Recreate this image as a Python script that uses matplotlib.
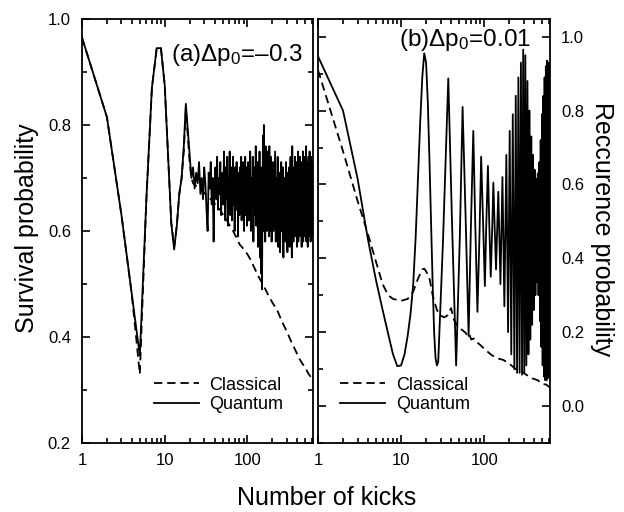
import numpy as np
import matplotlib
matplotlib.use('Agg')
import matplotlib.pyplot as plt
from matplotlib.ticker import FixedLocator, MultipleLocator, FixedFormatter, NullFormatter

plt.rcParams['font.family'] = ['Liberation Sans', 'DejaVu Sans']
plt.rcParams['mathtext.fontset'] = 'custom'
plt.rcParams['mathtext.rm'] = 'Liberation Sans'
plt.rcParams['mathtext.it'] = 'Liberation Sans:italic'
plt.rcParams['lines.scale_dashes'] = False

# ---------------- Panel (a): survival probability ----------------
a_early_n = list(range(1, 21))
a_early_q = [0.965, 0.815, 0.63, 0.48, 0.365, 0.66, 0.87, 0.945, 0.945, 0.875,
             0.74, 0.615, 0.565, 0.61, 0.67, 0.70, 0.76, 0.84, 0.79, 0.74]
a_early_c = [0.965, 0.815, 0.63, 0.48, 0.33, 0.66, 0.87, 0.945, 0.945, 0.875,
             0.74, 0.615, 0.57, 0.61, 0.67, 0.70, 0.75, 0.83, 0.78, 0.73]

a_q_n1 = list(range(21, 101))
a_q_v1 = [0.70, 0.72, 0.68, 0.71, 0.69, 0.73, 0.67, 0.70, 0.66, 0.72,
          0.69, 0.64, 0.60, 0.71, 0.68, 0.73, 0.65, 0.70, 0.58, 0.69,
          0.72, 0.66, 0.74, 0.64, 0.70, 0.67, 0.73, 0.63, 0.69, 0.71,
          0.65, 0.75, 0.68, 0.62, 0.72, 0.66, 0.74, 0.61, 0.70, 0.67,
          0.75, 0.63, 0.69, 0.72, 0.62, 0.68, 0.74, 0.65, 0.70, 0.60,
          0.72, 0.67, 0.64, 0.73, 0.66, 0.70, 0.59, 0.71, 0.68, 0.63,
          0.72, 0.65, 0.69, 0.74, 0.62, 0.67, 0.71, 0.64, 0.73, 0.66,
          0.60, 0.70, 0.68, 0.74, 0.63, 0.69, 0.65, 0.72, 0.61, 0.70]
a_q_n2 = list(range(102, 201, 2))
a_q_v2 = [0.73, 0.62, 0.68, 0.75, 0.60, 0.70, 0.65, 0.74, 0.58, 0.69,
          0.72, 0.63, 0.76, 0.61, 0.67, 0.73, 0.57, 0.70, 0.64, 0.75,
          0.55, 0.69, 0.52, 0.72, 0.49, 0.66, 0.78, 0.60, 0.80, 0.63,
          0.71, 0.58, 0.76, 0.64, 0.69, 0.60, 0.75, 0.62, 0.73, 0.66,
          0.59, 0.76, 0.63, 0.70, 0.60, 0.74, 0.65, 0.58, 0.72, 0.67]
a_q_n3 = list(range(204, 621, 4))
a_q_v3 = [0.73, 0.60, 0.68, 0.75, 0.58, 0.70, 0.63, 0.74, 0.57, 0.69,
          0.71, 0.56, 0.67, 0.73, 0.60, 0.66, 0.72, 0.55, 0.70, 0.64,
          0.70, 0.58, 0.73, 0.62, 0.68, 0.56, 0.71, 0.65, 0.60, 0.72,
          0.57, 0.69, 0.74, 0.61, 0.66, 0.55, 0.76, 0.63, 0.70, 0.58,
          0.72, 0.60, 0.67, 0.74, 0.59, 0.69, 0.62, 0.73, 0.57, 0.70,
          0.64, 0.75, 0.58, 0.68, 0.72, 0.60, 0.66, 0.74, 0.59, 0.71,
          0.62, 0.69, 0.57, 0.73, 0.65, 0.61, 0.75, 0.58, 0.70, 0.64,
          0.72, 0.59, 0.67, 0.74, 0.60, 0.69, 0.63, 0.76, 0.58, 0.71,
          0.65, 0.61, 0.73, 0.57, 0.70, 0.66, 0.74, 0.59, 0.68, 0.62,
          0.75, 0.60, 0.69, 0.72, 0.58, 0.67, 0.74, 0.61, 0.70, 0.63,
          0.73, 0.59, 0.68, 0.71, 0.62]

a_c_n = [21, 22, 24, 26, 28, 30, 33, 36, 40, 43, 47, 50, 55, 60, 65, 70, 75, 80,
         90, 100, 110, 120, 135, 150, 165, 180, 200, 230, 260, 300, 330, 380,
         420, 460, 500, 550, 600, 620]
a_c_v = [0.70, 0.69, 0.685, 0.68, 0.678, 0.672, 0.665, 0.66, 0.652, 0.645,
         0.64, 0.632, 0.624, 0.612, 0.605, 0.594, 0.586, 0.575, 0.566, 0.556,
         0.545, 0.532, 0.515, 0.502, 0.49, 0.478, 0.465, 0.45, 0.43, 0.41,
         0.395, 0.375, 0.36, 0.35, 0.342, 0.33, 0.322, 0.315]

# ---------------- Panel (b): recurrence probability ----------------
b_q_n = list(range(1, 29)) + [
    32, 37, 41, 46, 51, 55, 60, 65, 69, 74, 78, 83, 88, 92, 97, 102, 106, 111,
    115, 120, 125, 129, 134, 139, 143, 148,
    157, 166, 175, 185, 194, 203, 212, 221, 231, 240, 249, 258, 267, 277, 286,
    295, 304, 313, 322, 332, 341, 350, 359, 369, 378, 387, 396, 405, 414, 424,
    433, 442, 451, 461, 470, 479, 488, 497, 506, 516, 525, 534, 543, 553, 562,
    571, 580, 589, 598, 608, 617, 620]
b_q_v = [0.947, 0.80, 0.615, 0.45, 0.34, 0.26, 0.195, 0.14, 0.108, 0.11,
         0.14, 0.19, 0.25, 0.33, 0.46, 0.62, 0.77, 0.89, 0.955, 0.93,
         0.82, 0.66, 0.49, 0.33, 0.20, 0.13, 0.11, 0.12,
         0.45, 0.887, 0.50, 0.11, 0.46, 0.81, 0.50, 0.19, 0.47, 0.745, 0.50,
         0.255, 0.47, 0.675, 0.50, 0.325, 0.49, 0.65, 0.50, 0.35, 0.48, 0.605,
         0.48, 0.37, 0.47, 0.58,
         0.33, 0.62, 0.27, 0.68, 0.20, 0.745, 0.14, 0.79, 0.10, 0.84, 0.09,
         0.89, 0.09, 0.93, 0.085, 0.965, 0.09, 0.95, 0.11, 0.88, 0.14, 0.80,
         0.18, 0.73, 0.22, 0.68, 0.26, 0.64, 0.30, 0.615, 0.335, 0.63, 0.30,
         0.66, 0.23, 0.72, 0.16, 0.79, 0.11, 0.84, 0.08, 0.89, 0.07, 0.92,
         0.07, 0.935, 0.075, 0.93, 0.08, 0.93, 0.08, 0.25]

b_c_n = [1, 2, 3, 4, 5, 6, 7, 8, 10, 12, 14, 16, 18, 19, 20, 22, 24, 27, 30,
         33, 36, 40, 43, 48, 55, 60, 63, 66, 70, 75, 80, 90, 100, 120, 140,
         170, 200, 240, 280, 320, 380, 440, 500, 560, 620]
b_c_v = [0.91, 0.69, 0.555, 0.465, 0.39, 0.33, 0.30, 0.29, 0.285, 0.29,
         0.31, 0.345, 0.37, 0.372, 0.365, 0.345, 0.30, 0.26, 0.245, 0.24,
         0.245, 0.265, 0.235, 0.215, 0.205, 0.198, 0.19, 0.195, 0.18, 0.183,
         0.175, 0.165, 0.155, 0.14, 0.13, 0.125, 0.115, 0.10, 0.095, 0.085,
         0.075, 0.07, 0.06, 0.058, 0.05]

x_ticklabels = ['1', '10', '100', '1000']

# ---------------- drawing ----------------
fig = plt.figure(figsize=(6.24, 5.12), dpi=100)
axL = fig.add_axes([0.1314, 0.1348, 0.3702, 0.8281])
axR = fig.add_axes([0.5096, 0.1348, 0.3718, 0.8281])

LW = 1.3
DASH = (6, 3.5)

qa_n = a_early_n + a_q_n1 + a_q_n2 + a_q_n3
qa_v = a_early_q + a_q_v1 + a_q_v2 + a_q_v3
ca_n = a_early_n + a_c_n
ca_v = a_early_c + a_c_v

axL.plot(ca_n, ca_v, color='black', lw=LW, dashes=DASH, label='Classical')
axL.plot(qa_n, qa_v, color='black', lw=LW, label='Quantum')
axR.plot(b_c_n, b_c_v, color='black', lw=LW, dashes=DASH, label='Classical')
axR.plot(b_q_n, b_q_v, color='black', lw=LW, label='Quantum')

for ax in (axL, axR):
    ax.set_xscale('log')
    ax.set_xlim(1, 620)
    ax.xaxis.set_major_locator(FixedLocator([1, 10, 100, 1000]))
    ax.xaxis.set_major_formatter(FixedFormatter(x_ticklabels))
    ax.xaxis.set_minor_locator(FixedLocator([m * d for d in (1, 10, 100) for m in range(2, 10)]))
    ax.xaxis.set_minor_formatter(NullFormatter())
    ax.yaxis.set_major_locator(MultipleLocator(0.2))
    ax.yaxis.set_minor_locator(MultipleLocator(0.1))
    ax.yaxis.set_major_formatter(matplotlib.ticker.FormatStrFormatter('%.1f'))
    ax.tick_params(which='both', direction='in', top=True, bottom=True,
                   left=True, right=True, labelsize=12, width=1.2)
    ax.tick_params(which='major', length=6)
    ax.tick_params(which='minor', length=3.5)
    ax.tick_params(axis='y', pad=8)
    ax.tick_params(axis='x', pad=7)
    for s in ax.spines.values():
        s.set_linewidth(1.3)
    ax.legend(loc='lower left', frameon=False, fontsize=13,
              handlelength=2.5, handletextpad=0.6, labelspacing=0.15,
              borderaxespad=0, borderpad=0)

axL.set_ylim(0.2, 1.0)
axR.set_ylim(-0.1, 1.048)
axR.tick_params(axis='y', labelleft=False, labelright=True)

axL.get_legend().set_bbox_to_anchor((0.31, 0.07))
axR.get_legend().set_bbox_to_anchor((0.095, 0.07))

axL.text(0.385, 0.915, r'(a)$\Delta$p$_0$=–0.3', transform=axL.transAxes,
         fontsize=17.5, va='center', ha='left')
axR.text(0.35, 0.95, r'(b)$\Delta$p$_0$=0.01', transform=axR.transAxes,
         fontsize=17.5, va='center', ha='left')

fig.text(0.524, 0.027, 'Number of kicks', fontsize=18, ha='center', va='center')
fig.text(0.043, 0.554, 'Survival probability', fontsize=18, rotation=90,
         ha='center', va='center')
fig.text(0.965, 0.552, 'Reccurence probability', fontsize=18, rotation=-90,
         ha='center', va='center')

fig.savefig('out.png', dpi=100)
